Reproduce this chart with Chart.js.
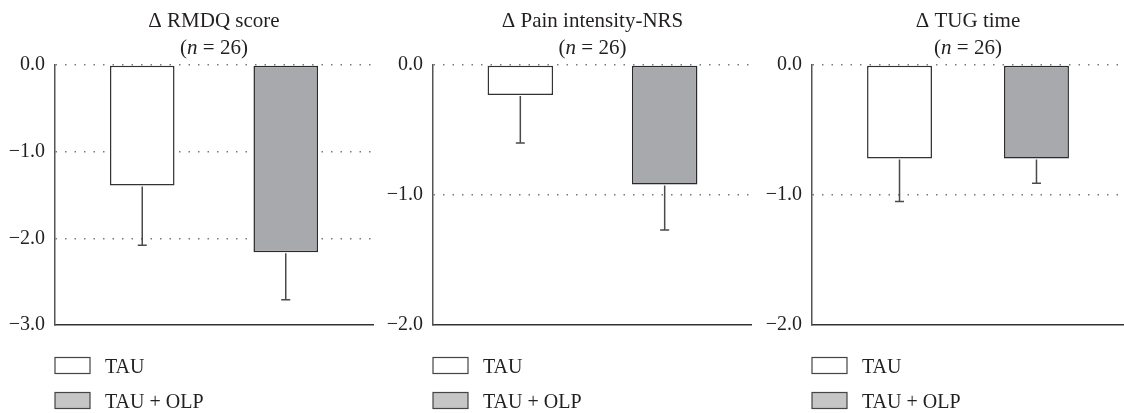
<!DOCTYPE html>
<html><head><meta charset="utf-8">
<script src="https://cdn.jsdelivr.net/npm/chart.js@4.4.1/dist/chart.umd.min.js"></script>
<style>
html,body{margin:0;padding:0;background:#fff;width:1124px;height:413px;overflow:hidden}
.p{position:absolute;top:0;height:413px}
</style></head><body>
<div class="p" style="left:0;width:374px"><canvas id="c0"></canvas></div>
<div class="p" style="left:375px;width:377px"><canvas id="c1"></canvas></div>
<div class="p" style="left:752px;width:372px"><canvas id="c2"></canvas></div>
<script>
// ---- data ----
const seriesNames = ['TAU', 'TAU + OLP'];
const panelTitles = ['\u0394 RMDQ score', '\u0394 Pain intensity-NRS', '\u0394 TUG time'];
const sampleSizes = [26, 26, 26];
const tauMeans = [-1.39, -0.23, -0.72];
const tauErrors = [0.69, 0.37, 0.33];
const olpMeans = [-2.16, -0.92, -0.72];
const olpErrors = [0.55, 0.35, 0.19];
const yMins = [-3, -2, -2];
const yMaxs = [0, 0, 0];
const yTickValues = [[0, -1, -2, -3], [0, -1, -2], [0, -1, -2]];

// ---- styles ----
const FONT = "'Liberation Serif', 'DejaVu Serif', serif";
const yWidths = [55, 58, 60];
const padRights = [1, 0, 0];
const catPcts = [0.9025, 0.905, 0.878];
const barPcts = [0.45, 0.454, 0.474];
const barFills = ['#ffffff', '#a8a9ac'];
const legendFills = ['#ffffff', '#c6c6c6'];
const TEXT = '#231f20';

function fmt(v) {
  const s = Math.abs(v).toFixed(1);
  return v < 0 ? '\u2212' + s : s;
}

const errorBarPlugin = {
  id: 'errorBars',
  afterDatasetsDraw(chart) {
    const ctx = chart.ctx, ys = chart.scales.y;
    chart.data.datasets.forEach((ds, di) => {
      const meta = chart.getDatasetMeta(di);
      meta.data.forEach((bar, k) => {
        const v = ds.data[k], e = ds.errors[k];
        const yTop = ys.getPixelForValue(v);
        const yEnd = ys.getPixelForValue(v - e);
        ctx.save();
        ctx.strokeStyle = '#4a4a4a';
        ctx.lineWidth = 1.5;
        ctx.beginPath();
        ctx.moveTo(bar.x, yTop + 1);
        ctx.lineTo(bar.x, yEnd);
        ctx.moveTo(bar.x - 4.5, yEnd);
        ctx.lineTo(bar.x + 4.5, yEnd);
        ctx.stroke();
        ctx.restore();
      });
    });
  }
};

const titlePlugin = {
  id: 'twoLineTitle',
  afterDraw(chart, args, opts) {
    const ctx = chart.ctx, a = chart.chartArea;
    const cx = (a.left + a.right) / 2;
    ctx.save();
    ctx.fillStyle = TEXT;
    ctx.textBaseline = 'alphabetic';
    ctx.font = '21px ' + FONT;
    ctx.textAlign = 'center';
    ctx.fillText(opts.text, cx, 27);
    const p1 = '(', p2 = 'n', p3 = ' = ' + opts.n + ')';
    const up = '21px ' + FONT, it = 'italic 21px ' + FONT;
    ctx.font = up; const w1 = ctx.measureText(p1).width, w3 = ctx.measureText(p3).width;
    ctx.font = it; const w2 = ctx.measureText(p2).width;
    let x = cx - (w1 + w2 + w3) / 2;
    ctx.textAlign = 'left';
    ctx.font = up; ctx.fillText(p1, x, 54); x += w1;
    ctx.font = it; ctx.fillText(p2, x, 54); x += w2;
    ctx.font = up; ctx.fillText(p3, x, 54);
    ctx.restore();
  }
};

const legendPlugin = {
  id: 'stackLegend',
  afterDraw(chart) {
    const ctx = chart.ctx, a = chart.chartArea;
    ctx.save();
    chart.data.datasets.forEach((ds, j) => {
      const y = 357.5 + j * 35;
      ctx.fillStyle = legendFills[j];
      ctx.fillRect(a.left, y, 35, 16);
      ctx.strokeStyle = '#444';
      ctx.lineWidth = 1.2;
      ctx.strokeRect(a.left, y, 35, 16);
      ctx.fillStyle = TEXT;
      ctx.font = '20px ' + FONT;
      ctx.textBaseline = 'alphabetic';
      ctx.textAlign = 'left';
      ctx.fillText(ds.label, a.left + 50, y + 15);
    });
    ctx.restore();
  }
};

for (let i = 0; i < 3; i++) {
  const yMin = yMins[i];
  new Chart(document.getElementById('c' + i), {
    type: 'bar',
    data: {
      labels: [''],
      datasets: [
        { label: seriesNames[0], data: [tauMeans[i]], errors: [tauErrors[i]],
          backgroundColor: barFills[0], borderColor: '#333', borderWidth: 1.5, borderSkipped: false,
          categoryPercentage: catPcts[i], barPercentage: barPcts[i] },
        { label: seriesNames[1], data: [olpMeans[i]], errors: [olpErrors[i]],
          backgroundColor: barFills[1], borderColor: '#2a2a2a', borderWidth: 1.5, borderSkipped: false,
          categoryPercentage: catPcts[i], barPercentage: barPcts[i] }
      ]
    },
    options: {
      responsive: true, maintainAspectRatio: false, animation: false,
      layout: { padding: { top: 65, bottom: 88, left: 0, right: padRights[i] } },
      plugins: {
        legend: { display: false }, tooltip: { enabled: false },
        twoLineTitle: { text: panelTitles[i], n: sampleSizes[i] }
      },
      scales: {
        x: {
          type: 'category',
          grid: { display: false, drawTicks: false },
          ticks: { display: false },
          border: { display: true, color: '#333', width: 1.5 }
        },
        y: {
          min: yMin, max: yMaxs[i],
          afterBuildTicks: s => { s.ticks = yTickValues[i].map(v => ({ value: v })); },
          afterFit: s => { s.width = yWidths[i]; },
          grid: {
            drawTicks: false, lineWidth: 1.5,
            color: c => (c.tick && c.tick.value === yMin) ? 'rgba(0,0,0,0)' : '#7a7a7a'
          },
          border: { display: true, color: '#555', width: 1.5, dash: [1.5, 8] },
          ticks: { padding: 10, color: TEXT, font: { family: FONT, size: 20 }, callback: v => fmt(v) }
        }
      }
    },
    plugins: [errorBarPlugin, titlePlugin, legendPlugin]
  });
}
</script>
</body></html>
